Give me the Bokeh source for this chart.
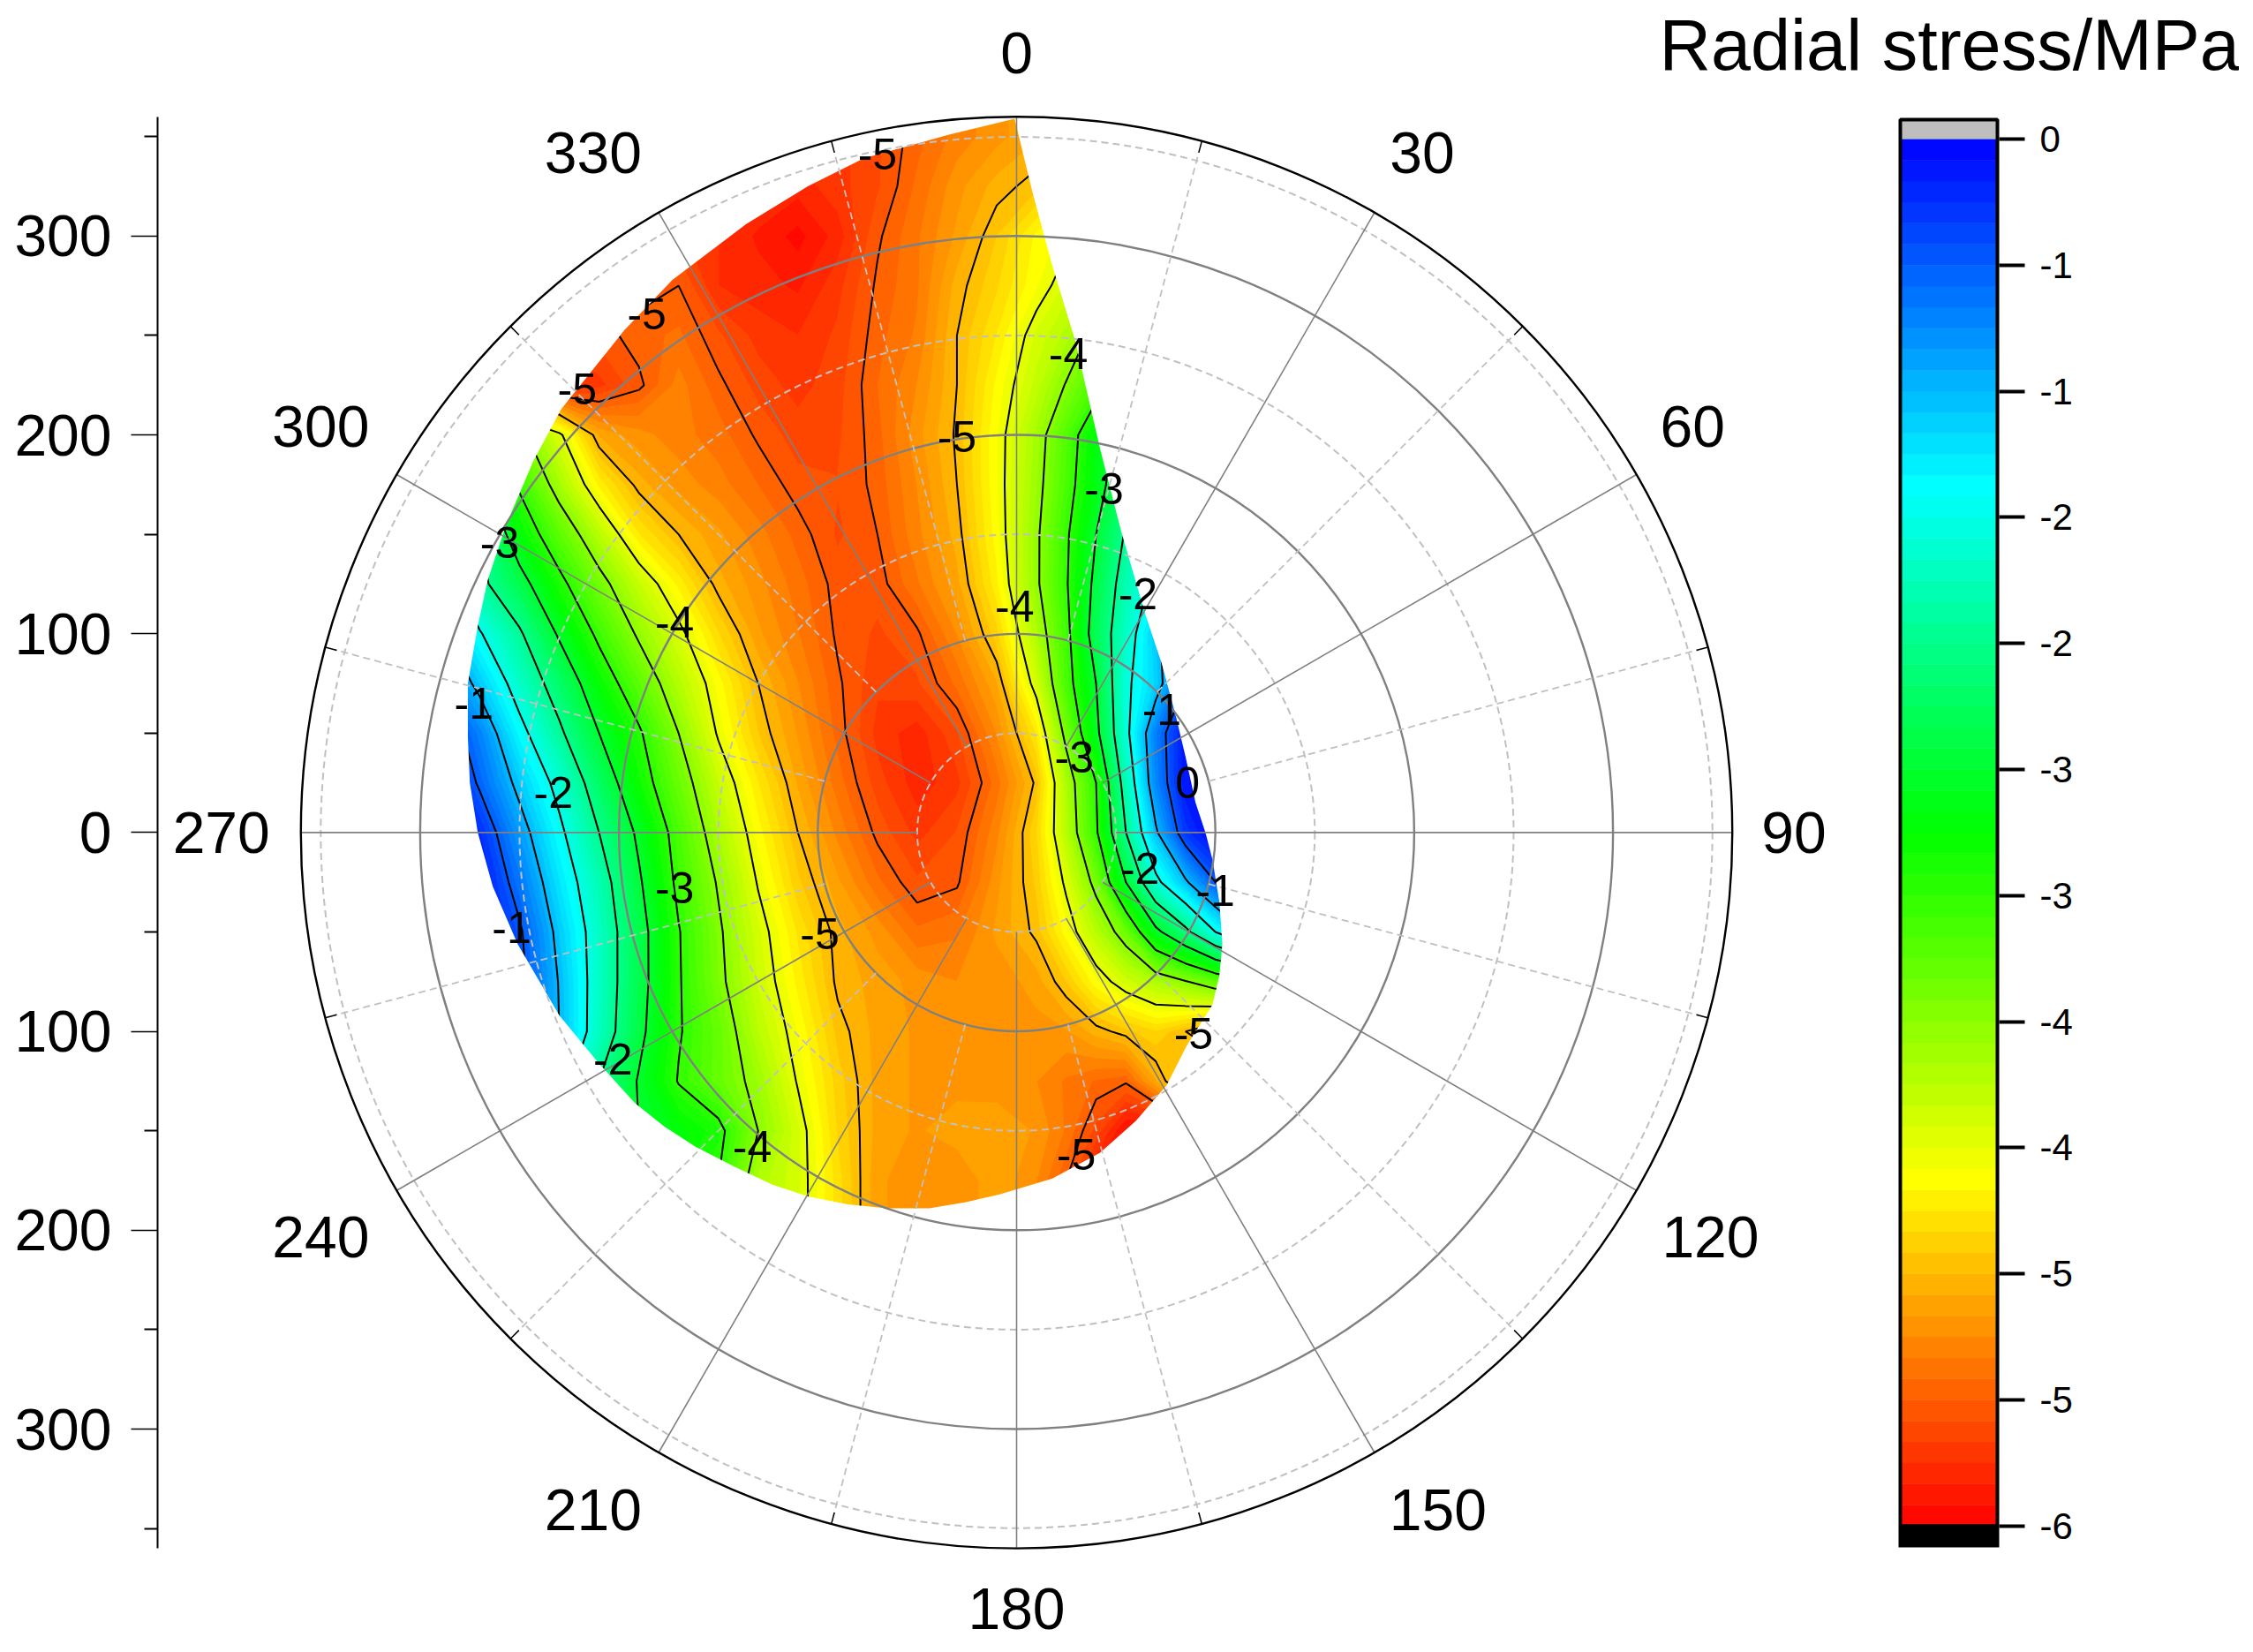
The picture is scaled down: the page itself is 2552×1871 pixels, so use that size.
from bokeh.plotting import figure
from bokeh.embed import file_html
from bokeh.resources import INLINE
from bokeh.models import Range1d, LinearAxis, FixedTicker
from bokeh.core.properties import value
import numpy as np

# ---------- data ----------
grid_x = [-290,-270,-250,-230,-210,-190,-170,-150,-130,-110,-90,-70,-50,-30,-10,10,25,40,55,70,85,100,115]
grid_y = [375,350,325,300,275,250,225,200,175,150,125,100,75,50,25,0,-25,-50,-75,-100,-125,-150,-175,-200]
stress = [
[-5,-5,-5,-5,-5,-5,-5,-5.1,-5.1,-5.2,-5.2,-5.1,-4.95,-4.8,-4.7,-4.6,-4.55,-4.5,-4.4,-4.3,-4.2,-4.1,-4.0],
[-5,-5,-5,-5,-5,-5,-5,-5.1,-5.1,-5.2,-5.2,-5.1,-4.95,-4.8,-4.7,-4.6,-4.55,-4.5,-4.4,-4.3,-4.2,-4.1,-4.0],
[-5,-5,-5,-5,-5,-5,-5.1,-5.2,-5.25,-5.3,-5.2,-5.1,-4.9,-4.7,-4.55,-4.45,-4.3,-4.2,-4.1,-4,-3.9,-3.8,-3.7],
[-5,-5,-5,-5,-5,-5.05,-5.15,-5.25,-5.35,-5.45,-5.3,-5.02,-4.85,-4.65,-4.42,-4.15,-4.05,-3.9,-3.8,-3.7,-3.6,-3.5,-3.4],
[-5,-5,-5,-5,-5.05,-5.05,-5.0,-5.25,-5.3,-5.35,-5.2,-4.98,-4.85,-4.55,-4.35,-4.1,-3.9,-3.7,-3.5,-3.3,-3.1,-3,-2.9],
[-5.2,-5.2,-5.2,-5.1,-5.05,-4.95,-4.9,-5.07,-5.2,-5.25,-5.15,-4.95,-4.82,-4.5,-4.25,-3.9,-3.72,-3.4,-3.2,-3,-2.8,-2.6,-2.4],
[-5.3,-5.3,-5.3,-5.3,-5.2,-5.03,-4.8,-4.97,-5.12,-5.2,-5.12,-4.92,-4.75,-4.5,-4.15,-3.8,-3.48,-3.15,-2.9,-2.6,-2.4,-2.2,-2],
[-2.9,-3.0,-3.4,-3.95,-4.6,-4.72,-4.8,-4.88,-5.02,-5.13,-5.1,-4.95,-4.7,-4.48,-4.1,-3.64,-3.2,-2.7,-2.3,-2,-1.8,-1.6,-1.4],
[-2,-2.4,-3.05,-3.65,-4.2,-4.55,-4.7,-4.8,-4.92,-5.05,-5.08,-4.97,-4.75,-4.5,-4.1,-3.6,-3.15,-2.65,-2.2,-1.9,-1.6,-1.4,-1.2],
[-1.3,-2.0,-2.75,-3.25,-3.75,-4.25,-4.5,-4.65,-4.8,-4.95,-5.1,-5.0,-4.78,-4.55,-4.13,-3.55,-3.05,-2.5,-1.96,-1.4,-1.1,-0.9,-0.7],
[-1.2,-1.9,-2.35,-2.9,-3.38,-3.82,-4.2,-4.55,-4.72,-4.88,-5.04,-5.05,-4.85,-4.62,-4.2,-3.55,-3.03,-2.4,-1.8,-1.4,-0.9,-0.6,-0.4],
[-0.9,-1.47,-1.95,-2.55,-3.08,-3.55,-3.93,-4.33,-4.65,-4.83,-5.02,-5.1,-5.02,-4.75,-4.37,-3.7,-3.1,-2.3,-1.7,-1.1,-0.5,-0.3,-0.1],
[-0.6,-1.1,-1.68,-2.2,-2.77,-3.25,-3.72,-4.13,-4.5,-4.75,-4.98,-5.15,-5.1,-4.9,-4.6,-3.9,-3.15,-2.5,-1.58,-1.15,-0.5,-0.2,0],
[-0.2,-0.72,-1.38,-1.93,-2.5,-2.95,-3.5,-4.03,-4.42,-4.68,-4.95,-5.2,-5.3,-5.1,-4.75,-4.25,-3.4,-2.6,-1.6,-0.7,-0.1,0,0],
[0,-0.55,-1.1,-1.62,-2.22,-2.82,-3.32,-3.83,-4.25,-4.6,-4.88,-5.13,-5.3,-5.2,-4.88,-4.47,-3.7,-3.0,-1.8,-0.75,-0.1,0,0],
[0,-0.25,-0.85,-1.42,-2.0,-2.57,-3.15,-3.68,-4.13,-4.5,-4.78,-5.03,-5.2,-5.08,-4.78,-4.35,-3.75,-3.05,-2.0,-1.05,-0.3,0,0],
[0,-0.1,-0.65,-1.25,-1.8,-2.45,-3.08,-3.53,-4.02,-4.4,-4.65,-4.9,-5.07,-5.02,-4.7,-4.4,-3.95,-3.4,-2.5,-1.6,-1.05,-0.5,-0.3],
[0,-0.1,-0.45,-1.1,-1.7,-2.35,-2.98,-3.45,-3.9,-4.27,-4.55,-4.7,-4.9,-4.85,-4.65,-4.47,-4.13,-3.75,-3.35,-2.6,-2.1,-1.5,-1.0],
[0,-0.1,-0.4,-1.02,-1.7,-2.35,-2.97,-3.42,-3.85,-4.2,-4.53,-4.62,-4.7,-4.75,-4.72,-4.63,-4.42,-4.12,-3.88,-3.7,-3.52,-3.3,-3.1],
[0,-0.2,-0.5,-1.0,-1.72,-2.4,-2.97,-3.3,-3.75,-4.1,-4.45,-4.62,-4.68,-4.72,-4.72,-4.7,-4.68,-4.55,-4.45,-4.35,-4.5,-4.7,-4.7],
[-0.5,-0.6,-0.8,-1.3,-2.0,-2.53,-3.02,-3.3,-3.6,-4.02,-4.38,-4.62,-4.68,-4.7,-4.72,-4.75,-4.85,-4.93,-4.98,-4.6,-4.3,-4.2,-4.2],
[-1,-1.2,-1.4,-1.8,-2.2,-2.5,-2.7,-2.9,-3.5,-3.9,-4.35,-4.62,-4.68,-4.62,-4.6,-4.68,-4.85,-5.12,-5.45,-5.5,-5,-4.5,-4.5],
[-1.5,-1.7,-1.9,-2.2,-2.4,-2.6,-2.8,-3,-3.7,-3.9,-4.3,-4.65,-4.72,-4.75,-4.6,-4.75,-5.0,-5.4,-5.5,-5.5,-5.2,-5,-5],
[-1.5,-1.7,-1.9,-2.2,-2.4,-2.6,-2.8,-3,-3.7,-3.9,-4.3,-4.65,-4.72,-4.75,-4.6,-4.75,-5.0,-5.4,-5.5,-5.5,-5.2,-5,-5],
]
domain_x = [-1,8,18,29.6,42,53,65,73,80,85,90,95,98.5,102,103.5,102,98.5,92,85.7,75.5,60,42,18,-8.6,-26,-44,-65,-85,-105,-123,-142,-161.5,-177,-192,-211,-230,-251,-263.5,-271,-275,-276,-276,-271,-266,-257,-243,-229,-197,-173,-136,-105,-77,-34]
domain_y = [359,322,285,247,193,150,109,85,59,38,15,0,-13.5,-35,-56,-72,-86.6,-97,-107,-127,-145,-161,-174,-182,-186,-189,-189,-187,-183,-177,-168,-158,-148,-136,-115,-92,-56,-27,0,25,48,75,104,127,154,187,213,253,278,306,325,339,351]

contour_label_text = ["-5","-5","-5","-4","-5","-3","-3","-2","-4","-4","-1","-1","-3","0","-2","-2","-1","-3","-1","-5","-2","-5","-5","-4"]
contour_label_x = [-70,-186,-221,26,-30,44,-260,61,-172,-1,73,-273,29,86,-233,62,100,-172,-254,-99,-203,89,30,-133]
contour_label_y = [341,261,223,241,199,173,146,120,106,114,62,65,38,25,20,-18,-29,-28,-48,-51,-114,-101,-162,-158]

angle_labels = ["0","30","60","90","120","150","180","210","240","270","300","330"]
angle_label_x = [0,204,340,391,349,212,0,-213,-350,-400,-350,-213]
angle_label_y = [392,342,204,0,-203.5,-340.5,-390.5,-340.5,-203.5,0,204,342]

radius_ticks = [-300,-200,-100,0,100,200,300]
radius_minor = [-350,-250,-150,-50,50,150,250,350]
cb_ticks = [0,-0.5,-1,-1.5,-2,-2.5,-3,-3.5,-4,-4.5,-5,-5.5]
cb_tick_labels = ["0","-1","-1","-2","-2","-3","-3","-4","-4","-5","-5","-6"]
cb_title = "Radial stress/MPa"
major_circles = [100,200,300]
minor_circles = [50,150,250,350]

# ---------- styles ----------
FONT = "Liberation Sans"
N_BANDS = 66
V_MIN, V_MAX = -5.5, 0.0
stops = [(0,0,255),(0,255,255),(0,255,0),(255,255,0),(255,0,0)]
def rainbow(t):
    t = min(max(t,0),1)*4
    i = min(int(t),3)
    f = t-i
    c = [round(stops[i][k]+(stops[i+1][k]-stops[i][k])*f) for k in range(3)]
    return "#%02x%02x%02x" % tuple(c)
band_edges = np.linspace(V_MIN, V_MAX, N_BANDS+1)
band_colors = [rainbow((V_MAX-(band_edges[i]+band_edges[i+1])/2)/(V_MAX-V_MIN)) for i in range(N_BANDS)]

# page geometry (picture px)
PX = 2.252
CX, CY = 1151.0, 942.4
def X(px): return (px-CX)/PX
def Y(py): return (CY-py)/PX
CB0, CBS = 157.0, 285.6
def V(py): return -(py-CB0)/CBS

W, H = 2536, 1863
p = figure(width=W, height=H, output_backend="svg", toolbar_location=None,
           x_range=Range1d(X(178), X(W)), y_range=Range1d(Y(H), Y(0)),
           min_border_left=178, min_border_right=0, min_border_top=0, min_border_bottom=0,
           outline_line_color=None, x_axis_location=None, y_axis_location=None)
p.grid.visible = False
p.background_fill_color = "white"
p.extra_y_ranges = {"cb": Range1d(V(H), V(0))}

# left axis
la = LinearAxis(bounds=(-360,360),
                ticker=FixedTicker(ticks=radius_ticks, minor_ticks=radius_minor),
                major_label_overrides={v: str(abs(v)) for v in radius_ticks},
                major_tick_in=0, major_tick_out=30, minor_tick_in=0, minor_tick_out=15,
                major_tick_line_width=1.5, minor_tick_line_width=2, axis_line_width=2,
                major_label_text_font=FONT, major_label_text_font_size="66px",
                major_label_standoff=22, major_label_text_color="black")
p.add_layout(la, "left")

# contour field
gx = np.array(grid_x, dtype=float)
gy = np.array(grid_y, dtype=float)[::-1]
gz = np.array(stress, dtype=float)[::-1]
levels = list(band_edges)
p.contour(gx, gy, gz, levels, fill_color=band_colors, line_color=None)
p.contour(gx, gy, gz, levels, fill_color=None, line_color=band_colors+[band_colors[-1]], line_width=1.5)
p.contour(gx, gy, gz, [-5,-4.5,-4,-3.5,-3,-2.5,-2,-1.5,-1,-0.5], fill_color=None, line_color="black", line_width=2)

# mask outside the measured domain
ox0, ox1, oy0, oy1 = min(grid_x)-3, max(grid_x)+3, min(grid_y)-3, max(grid_y)+3
p.multi_polygons(xs=[[[[ox0,ox1,ox1,ox0], domain_x]]], ys=[[[[oy0,oy0,oy1,oy1], domain_y]]],
                 fill_color="white", line_color=None)

# polar grid
for r in minor_circles:
    p.circle(x=0, y=0, radius=r, fill_color=None, line_color="#c0c0c0", line_width=2, line_dash="8 5")
for r in major_circles:
    p.circle(x=0, y=0, radius=r, fill_color=None, line_color="#808080", line_width=2.4)
th_major = np.radians(np.arange(0,360,30))
p.multi_line([[50*np.sin(t), 360*np.sin(t)] for t in th_major],
             [[50*np.cos(t), 360*np.cos(t)] for t in th_major], line_color="#808080", line_width=1.6)
th_minor = np.radians(np.arange(15,360,30))
p.multi_line([[100*np.sin(t), 355*np.sin(t)] for t in th_minor],
             [[100*np.cos(t), 355*np.cos(t)] for t in th_minor], line_color="#c0c0c0", line_width=1.8, line_dash="8 5")
p.multi_line([[354*np.sin(t), 360*np.sin(t)] for t in th_minor],
             [[354*np.cos(t), 360*np.cos(t)] for t in th_minor], line_color="black", line_width=1.5)
p.circle(x=0, y=0, radius=360, fill_color=None, line_color="black", line_width=2.4)

# texts
p.text(x=contour_label_x, y=contour_label_y, text=contour_label_text, text_font=value(FONT),
       text_font_size="50px", text_align="center", text_baseline="middle", text_color="black")
p.text(x=angle_label_x, y=angle_label_y, text=angle_labels, text_font=value(FONT),
       text_font_size="66px", text_align="center", text_baseline="middle", text_color="black")
p.text(x=[X(1879)], y=[Y(50)], text=[cb_title], text_font=value(FONT), text_font_size="81px",
       text_align="left", text_baseline="middle", text_color="black")

# colour bar
bl, br = X(2152), X(2262)
p.quad(left=bl, right=br, top=band_edges[1:], bottom=band_edges[:-1], fill_color=band_colors,
       line_color=band_colors, line_width=0.5, y_range_name="cb")
p.quad(left=bl, right=br, top=V(135), bottom=0, fill_color="#bebebe", line_color=None, y_range_name="cb")
p.quad(left=X(2150), right=X(2264), top=-5.5, bottom=V(1752), fill_color="black", line_color=None, y_range_name="cb")
p.quad(left=bl, right=br, top=V(135), bottom=-5.5, fill_color=None, line_color="black", line_width=4, y_range_name="cb")

# colour bar axis, fixed beside the bar
ra = LinearAxis(y_range_name="cb", bounds=(-5.5,0), fixed_location=X(2264),
                ticker=FixedTicker(ticks=cb_ticks),
                major_label_overrides={v: s for v, s in zip(cb_ticks, cb_tick_labels)},
                major_tick_in=0, major_tick_out=29, minor_tick_line_color=None,
                major_tick_line_width=4, axis_line_color=None,
                major_label_text_font=FONT, major_label_text_font_size="42px",
                major_label_standoff=17, major_label_text_color="black")
p.add_layout(ra, "right")

open("out.html", "w").write(file_html(p, INLINE))
